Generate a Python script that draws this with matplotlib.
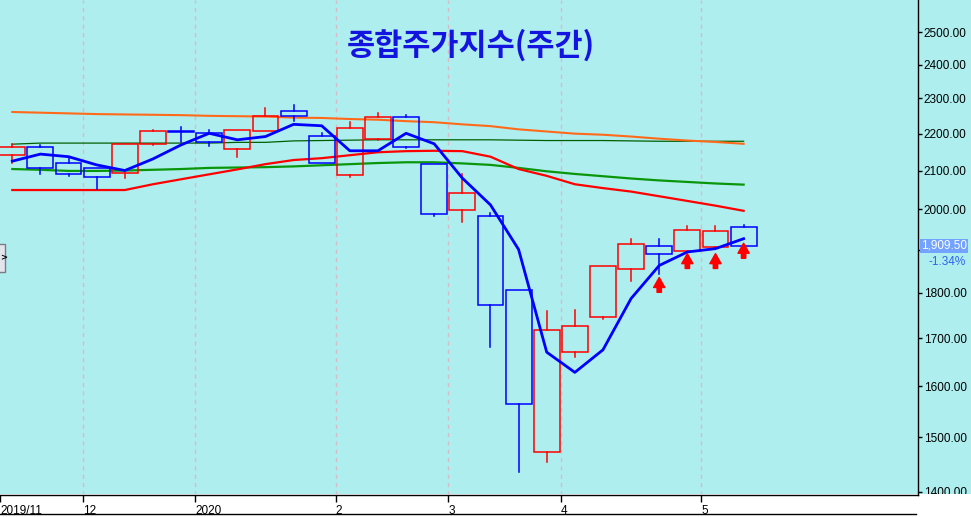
import numpy as np
import pandas as pd
import matplotlib
matplotlib.use("Agg")
import matplotlib.pyplot as plt
import matplotlib.transforms as mtransforms
from matplotlib.patches import Rectangle
from matplotlib.lines import Line2D
from matplotlib.ticker import FixedLocator, NullLocator, FuncFormatter, NullFormatter

# weekly KOSPI bars, dated by the last trading day of each week
dates = pd.to_datetime([
    "2019-11-15", "2019-11-22", "2019-11-29", "2019-12-06", "2019-12-13",
    "2019-12-20", "2019-12-27", "2020-01-03", "2020-01-10", "2020-01-17",
    "2020-01-23", "2020-01-31", "2020-02-07", "2020-02-14", "2020-02-21",
    "2020-02-28", "2020-03-06", "2020-03-13", "2020-03-20", "2020-03-27",
    "2020-04-03", "2020-04-10", "2020-04-17", "2020-04-24", "2020-04-29",
    "2020-05-08", "2020-05-15",
])
opens = [2141, 2162, 2119, 2106, 2093, 2172, 2208, 2203, 2157, 2207,
         2263, 2194, 2088, 2186, 2246, 2117, 1998, 1983, 1807, 1472,
         1671, 1746, 1855, 1909, 1897, 1907, 1956]
highs = [2171, 2169, 2137, 2107, 2172, 2210, 2218, 2210, 2209, 2272,
         2281, 2203, 2233, 2257, 2252, 2117, 2090, 1990, 1807, 1760,
         1762, 1862, 1926, 1926, 1959, 1959, 1961]
lows = [2119, 2090, 2086, 2051, 2081, 2168, 2178, 2167, 2137, 2207,
        2236, 2119, 2084, 2183, 2160, 1982, 1969, 1680, 1436, 1454,
        1659, 1742, 1826, 1842, 1897, 1901, 1909.5]
closes = [2162, 2106, 2090, 2082, 2172, 2207, 2204, 2178, 2209, 2250,
          2250, 2119, 2215, 2246, 2164, 1988, 2041, 1773, 1564, 1718,
          1727, 1862, 1914, 1890, 1948, 1946, 1909.5]

ma5 = [2125, 2144, 2137, 2115, 2100, 2131, 2169, 2201, 2183, 2192,
       2226, 2222, 2153, 2153, 2201, 2172, 2080, 2011, 1901, 1670,
       1628, 1675, 1787, 1863, 1895, 1903, 1927]
ma20 = [2049, 2049, 2049, 2049, 2049, 2064, 2077, 2090, 2103, 2117,
        2128, 2133, 2141, 2149, 2152, 2153, 2152, 2137, 2104, 2086,
        2064, 2054, 2045, 2033, 2021, 2009, 1996]
ma60 = [2104, 2102, 2099, 2099, 2100, 2102, 2104, 2107, 2108, 2109,
        2111, 2114, 2117, 2120, 2122, 2122, 2119, 2115, 2107, 2098,
        2091, 2085, 2079, 2074, 2070, 2066, 2063]
ma120 = [2261, 2259, 2257, 2255, 2254, 2253, 2252, 2250, 2249, 2248,
         2245, 2244, 2241, 2239, 2235, 2232, 2226, 2221, 2212, 2206,
         2200, 2197, 2192, 2186, 2181, 2177, 2172]
ma200 = [2171, 2174, 2174, 2174, 2174, 2174, 2174, 2174, 2176, 2176,
         2180, 2181, 2182, 2183, 2183, 2183, 2183, 2183, 2182, 2181,
         2181, 2181, 2180, 2179, 2179, 2179, 2179]

signal_weeks = [23, 24, 25, 26]
signal_tip = [1835, 1891, 1891, 1916]
signal_tail = [1801, 1856, 1856, 1880]

last_price = 1909.50
last_change = -1.34
title = "종합주가지수(주간)"
y_ticks = list(range(1400, 2501, 100))

BG = "#afeeee"
UP = "#ff0000"
DOWN = "#0000ff"

fig = plt.figure(figsize=(9.71, 5.17), dpi=100, facecolor=BG)
ax = fig.add_axes([0, 22 / 517, 918 / 971, 495 / 517], facecolor=BG)

x = np.arange(len(dates))

# month ticks where the bar's month changes
month_pos = [i - 0.5 for i in range(1, len(dates)) if dates[i].month != dates[i - 1].month]
month_lbl = ["2020" if dates[i].month == 1 else str(dates[i].month)
             for i in range(1, len(dates)) if dates[i].month != dates[i - 1].month]

for p in month_pos:
    ax.axvline(p, color="#d5bcc6", lw=1, ls=(0, (3, 3)), zorder=0.5)

# moving averages
ax.plot(x, ma200, color="#006000", lw=0.9, zorder=2)
ax.plot(x, ma120, color="#ff6a1a", lw=1.5, zorder=2)
ax.plot(x, ma60, color="#0a960a", lw=1.6, zorder=2)
ax.plot(x, ma20, color="#ff0000", lw=1.6, zorder=2)

# candles (hollow boxes)
w = 0.92
for i in range(len(dates)):
    o, h, l, c = opens[i], highs[i], lows[i], closes[i]
    col = UP if c > o else DOWN
    top, bot = max(o, c), min(o, c)
    if bot == top:
        top = bot * 1.0008
    ax.add_patch(Rectangle((i - w / 2, bot), w, top - bot, fill=False,
                           edgecolor=col, lw=1.1, zorder=3))
    if h > top:
        ax.plot([i, i], [top, h], color=col, lw=1.1, zorder=3)
    if l < bot:
        ax.plot([i, i], [l, bot], color=col, lw=1.1, zorder=3)

ax.plot(x, ma5, color="#0000ff", lw=2.0, zorder=4)

# buy signal arrows
for i, tip, tail in zip(signal_weeks, signal_tip, signal_tail):
    ax.annotate("", xy=(i, tip), xytext=(i, tail),
                arrowprops=dict(arrowstyle="simple,head_length=0.8,head_width=0.9,tail_width=0.35",
                                color="#ff0000", mutation_scale=9, shrinkA=0, shrinkB=0),
                zorder=5)

ax.set_yscale("log")
ax.set_ylim(1394.7, 2604)
ax.set_xlim(-0.437, 32.2)


def price_fmt(v, pos):
    # the label sitting under the last-price tag is hidden
    if abs(np.log10(v / last_price)) < 0.006:
        return ""
    return f"{v:.2f}"


ax.yaxis.tick_right()
ax.yaxis.set_major_locator(FixedLocator(y_ticks))
ax.yaxis.set_minor_locator(NullLocator())
ax.yaxis.set_major_formatter(FuncFormatter(price_fmt))
ax.yaxis.set_minor_formatter(NullFormatter())
ax.tick_params(axis="y", direction="out", length=3, width=1, pad=1,
               labelsize=8.5, labelfontfamily="Liberation Sans")

ax.set_xticks([-0.437] + month_pos)
ax.set_xticklabels(["2019/11"] + month_lbl)
ax.tick_params(axis="x", direction="out", length=5, width=1, pad=2,
               labelsize=8.5, labelfontfamily="Liberation Sans")
for lbl in ax.get_xticklabels():
    lbl.set_horizontalalignment("left")
ax.xaxis.set_zorder(3)

for s in ["left", "top"]:
    ax.spines[s].set_visible(False)
for s in ["right", "bottom"]:
    ax.spines[s].set_color("black")
    ax.spines[s].set_linewidth(1)

# white band under the price area
ax.add_patch(Rectangle((0, 0), 1, 23 / 517, transform=fig.transFigure,
                       facecolor="white", edgecolor="none", clip_on=False, zorder=2))
fig.add_artist(Line2D([0, 916 / 971], [3 / 517, 3 / 517], color="black", lw=1))

# last price tag
blend = mtransforms.blended_transform_factory(fig.transFigure, ax.transData)
ax.text(967 / 971, last_price, f"{last_price:,.2f}", transform=blend, ha="right",
        va="center", color="white", fontsize=8.5, family="Liberation Sans",
        bbox=dict(boxstyle="square,pad=0.12", fc="#73a3ff", ec="none"), clip_on=False, zorder=6)
ax.text(966 / 971, last_price * 0.9805, f"{last_change:.2f}%", transform=blend, ha="right",
        va="center", color="#2b63f0", fontsize=8.5, family="Liberation Sans",
        clip_on=False, zorder=6)

# title
fig.text(471 / 971, 1 - 45 / 517, title, ha="center", va="center",
         fontsize=22, fontweight="bold", color="#1414e0",
         family=["Noto Sans CJK KR", "DejaVu Sans"])

# scroll button at the left edge
fig.add_artist(Rectangle((-2 / 971, (517 - 272) / 517), 7 / 971, 28 / 517,
                         transform=fig.transFigure, facecolor="#e4e6ee",
                         edgecolor="#7a7a88", lw=1))
fig.text(0.5 / 971, 1 - 258 / 517, ">", fontsize=6, fontweight="bold",
         ha="left", va="center", color="black")

fig.savefig("out.png", dpi=100, facecolor=BG)
